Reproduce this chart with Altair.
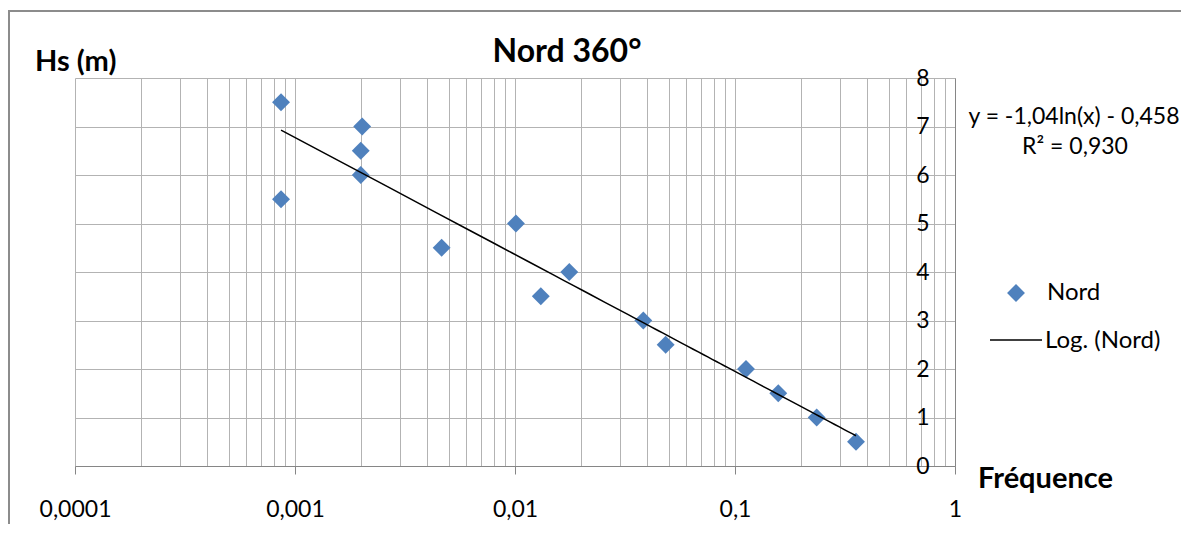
import altair as alt
import pandas as pd

# ---- data ----
FREQ = [0.000864, 0.000864, 0.00202, 0.00199, 0.00199, 0.00464, 0.0101, 0.0131,
        0.01765, 0.0383, 0.0484, 0.1122, 0.1573, 0.2351, 0.3548]
HS = [7.5, 5.5, 7.0, 6.5, 6.0, 4.5, 5.0, 3.5, 4.0, 3.0, 2.5, 2.0, 1.5, 1.0, 0.5]

X_DECADES = [0.0001, 0.001, 0.01, 0.1, 1]
X_TICK_LABELS = ["0,0001", "0,001", "0,01", "0,1", "1"]
Y_TICKS = [0, 1, 2, 3, 4, 5, 6, 7, 8]

SERIES_NAME = "Nord"
TREND_NAME = "Log. (Nord)"
TITLE = "Nord 360°"
Y_TITLE = "Hs (m)"
X_TITLE = "Fréquence"
EQUATION = "y = -1,04ln(x) - 0,458"
R2_TEXT = "R² = 0,930"

BLUE = "#4F81BD"
GRID = "#b3b3b3"
AXIS = "#868686"
FONT = "Lato"

df = pd.DataFrame({"freq": FREQ, "hs": HS})

# all grid positions 1..9 x each decade
grid_vals = [k * d for d in X_DECADES[:-1] for k in range(1, 10)] + [X_DECADES[-1]]
is_decade = "abs(log(datum.value)/LN10 - round(log(datum.value)/LN10)) < 1e-6"
label_expr = ""
for v, lab in zip(X_DECADES, X_TICK_LABELS):
    label_expr += f"abs(datum.value/{v} - 1) < 1e-6 ? '{lab}' : "
label_expr += "''"

x_enc = alt.X(
    "freq:Q",
    scale=alt.Scale(type="log", domain=[X_DECADES[0], X_DECADES[-1]], nice=False),
    axis=alt.Axis(
        values=grid_vals,
        labelExpr=label_expr,
        labelOverlap=False,
        labelFlush=False,
        labelFont=FONT,
        labelFontSize=23,
        labelColor="black",
        labelBaseline="alphabetic",
        labelPadding=42,
        grid=True,
        gridColor=GRID,
        gridWidth=1,
        domainColor=AXIS,
        domainWidth=1,
        tickColor=AXIS,
        tickSize=8,
        tickOpacity={"condition": {"test": is_decade, "value": 1}, "value": 0},
        title=None,
    ),
)
y_enc = alt.Y(
    "hs:Q",
    scale=alt.Scale(domain=[Y_TICKS[0], Y_TICKS[-1]], nice=False),
    axis=alt.Axis(
        orient="right",
        values=Y_TICKS,
        labelFlush=False,
        labelOverlap=False,
        labelFont=FONT,
        labelFontSize=23,
        labelColor="black",
        labelAlign="right",
        labelBaseline="middle",
        labelPadding=-26,
        tickSize=0,
        grid=True,
        gridColor=GRID,
        gridWidth=1,
        domainColor=AXIS,
        domainWidth=1,
        title=None,
    ),
)

points = alt.Chart(df).mark_point(
    shape="diamond", filled=True, size=320, color=BLUE, opacity=1
).encode(x=x_enc, y=y_enc)

trend = alt.Chart(df).transform_regression(
    "freq", "hs", method="log"
).mark_line(color="black", strokeWidth=1.5).encode(x="freq:Q", y="hs:Q")

one = alt.Data(values=[{}])


def txt(s, x, y, size, weight="normal", align="left"):
    return alt.Chart(one).mark_text(
        text=s, font=FONT, fontSize=size, fontWeight=weight, align=align,
        baseline="alphabetic", color="black"
    ).encode(x=alt.value(x), y=alt.value(y))


title = txt(TITLE, 492, -16, 32, "bold", "center")
ytitle = txt(Y_TITLE, -40, -7, 29, "bold")
xtitle = txt(X_TITLE, 903, 410, 29, "bold")
eq = txt(EQUATION, 999, 46, 23, "normal", "center")
r2 = txt(R2_TEXT, 1000, 76, 23, "normal", "center")

leg_pt = alt.Chart(one).mark_point(
    shape="diamond", filled=True, size=320, color=BLUE, opacity=1
).encode(x=alt.value(941), y=alt.value(215))
leg_t1 = txt(SERIES_NAME, 972, 222, 24)
leg_line = alt.Chart(one).mark_rule(color="black", strokeWidth=1.5).encode(
    x=alt.value(915), x2=alt.value(967), y=alt.value(262)
)
leg_t2 = txt(TREND_NAME, 970, 270, 24)

border_left = alt.Chart(one).mark_rule(color="#8c8c8c", strokeWidth=2).encode(
    x=alt.value(-66), y=alt.value(-68), y2=alt.value(446)
)
border_top = alt.Chart(one).mark_rule(color="#8c8c8c", strokeWidth=2).encode(
    x=alt.value(-67), x2=alt.value(1106), y=alt.value(-67)
)

chart = alt.layer(
    border_left, border_top, points, trend, title, ytitle, xtitle, eq, r2,
    leg_pt, leg_t1, leg_line, leg_t2
).properties(
    width=880,
    height=388,
    autosize=alt.AutoSizeParams(type="none"),
    padding={"left": 67, "top": 70, "right": 226, "bottom": 58},
).configure_view(stroke=None)

chart.save("out.html", embed_options={"renderer": "svg", "actions": False})
